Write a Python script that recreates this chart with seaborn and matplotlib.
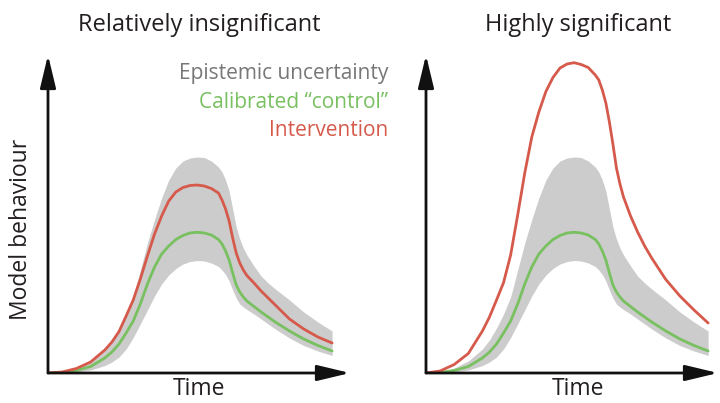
import numpy as np
import pandas as pd
import seaborn as sns
import matplotlib
matplotlib.use('Agg')
import matplotlib.pyplot as plt

# values (time 0-10, behaviour 0-10)
time = [0, 0.5, 1, 1.5, 2, 2.25, 2.5, 2.75, 3, 3.25, 3.5, 3.75, 4, 4.25, 4.5, 4.75,
        5, 5.25, 5.5, 5.75, 6, 6.125, 6.25, 6.375, 6.5, 6.625, 6.75, 6.875,
        7, 7.25, 7.5, 7.75, 8, 8.5, 9, 9.5, 10]
control = [0, 0.016, 0.079, 0.204, 0.472, 0.660, 0.912, 1.258, 1.635, 2.170, 2.799,
           3.333, 3.742, 3.994, 4.198, 4.324, 4.403, 4.425, 4.403, 4.340, 4.198,
           4.057, 3.836, 3.553, 3.145, 2.767, 2.547, 2.390, 2.264, 2.091, 1.918,
           1.761, 1.604, 1.321, 1.069, 0.865, 0.692]
band_upper = [0, 0.031, 0.157, 0.377, 0.755, 1.038, 1.415, 1.855, 2.390, 3.239, 4.088,
              4.827, 5.503, 6.069, 6.447, 6.667, 6.761, 6.792, 6.777, 6.667, 6.478,
              6.321, 6.069, 5.723, 5.157, 4.591, 4.214, 3.931, 3.711, 3.365, 3.050,
              2.830, 2.642, 2.296, 1.918, 1.604, 1.321]
band_lower = [0, 0, 0.031, 0.094, 0.236, 0.346, 0.503, 0.755, 1.116, 1.541, 1.981,
              2.421, 2.799, 3.082, 3.286, 3.428, 3.506, 3.538, 3.522, 3.459, 3.349,
              3.239, 3.097, 2.893, 2.610, 2.358, 2.170, 2.075, 1.997, 1.855, 1.698,
              1.541, 1.384, 1.101, 0.865, 0.692, 0.550]
intervention_small = [0, 0.031, 0.142, 0.346, 0.723, 0.975, 1.305, 1.792, 2.296, 2.956,
                      3.679, 4.371, 4.937, 5.409, 5.692, 5.833, 5.896, 5.912, 5.881,
                      5.802, 5.660, 5.440, 5.157, 4.780, 4.245, 3.774, 3.459, 3.239,
                      3.066, 2.830, 2.579, 2.358, 2.138, 1.698, 1.384, 1.132, 0.943]
intervention_large = [0, 0.063, 0.267, 0.613, 1.321, 1.761, 2.296, 2.846, 3.711, 4.969,
                      6.289, 7.421, 8.208, 8.852, 9.292, 9.591, 9.717, 9.758, 9.701,
                      9.607, 9.371, 9.214, 8.899, 8.491, 7.893, 7.201, 6.447, 5.943,
                      5.535, 4.937, 4.434, 3.994, 3.616, 2.940, 2.421, 1.981, 1.572]

titles = ["Relatively insignificant", "Highly significant"]
legend_labels = ["Epistemic uncertainty", "Calibrated \u201ccontrol\u201d", "Intervention"]

GRAY_FILL = '#cccccc'
GREEN = '#78c060'
RED = '#d65a4c'
GRAY_TEXT = '#777777'
INK = '#231f20'

sns.set_theme(style="white")
plt.rcParams['font.family'] = ['Open Sans', 'DejaVu Sans']

fig = plt.figure(figsize=(7.2, 4.03), dpi=100)

# axes placed so the arrows start at the origin and end at the tips
panels = [
    ([48 / 720, 30 / 403, 302 / 720, 318 / 403], 10.63, intervention_small, 199),
    ([426 / 720, 30 / 403, 292 / 720, 318 / 403], 10.35, intervention_large, 578),
]

for i, (rect, xmax, interv, cx) in enumerate(panels):
    ax = fig.add_axes(rect)
    df = pd.DataFrame({'time': time, 'control': control, 'intervention': interv,
                       'upper': band_upper, 'lower': band_lower})
    ax.fill_between(df['time'], df['lower'], df['upper'], color=GRAY_FILL, lw=0)
    sns.lineplot(data=df, x='time', y='control', color=GREEN, lw=2.0, ax=ax,
                 solid_joinstyle='round', solid_capstyle='round')
    sns.lineplot(data=df, x='time', y='intervention', color=RED, lw=2.0, ax=ax,
                 solid_joinstyle='round', solid_capstyle='round')
    ax.set_xlim(0, xmax)
    ax.set_ylim(0, 10)
    ax.set_xticks([])
    ax.set_yticks([])
    ax.set_xlabel('')
    ax.set_ylabel('')
    for s in ax.spines.values():
        s.set_visible(False)
    arrow = dict(arrowstyle='-|>,head_length=1.0,head_width=0.24', color='#111111',
                 lw=2.0, mutation_scale=20, shrinkA=0, shrinkB=0)
    ax.annotate('', xy=(1, 0), xytext=(0, 0), xycoords='axes fraction',
                arrowprops=arrow, zorder=5)
    ax.annotate('', xy=(0, 1), xytext=(0, 0), xycoords='axes fraction',
                arrowprops=arrow, zorder=5)
    fig.text(cx / 720, 1 - 25 / 403, titles[i], ha='center', va='center',
             fontsize=17, color=INK)
    fig.text(cx / 720, 1 - 389 / 403, 'Time', ha='center', va='center',
             fontsize=16.5, color=INK)

fig.text(21 / 720, 1 - 229 / 403, 'Model behaviour', rotation=90, ha='center',
         va='center', fontsize=16.5, color=INK)

for label, color, y in zip(legend_labels, [GRAY_TEXT, GREEN, RED], [73, 102, 130]):
    fig.text(388 / 720, 1 - y / 403, label, ha='right', va='center',
             fontsize=15, color=color)

fig.savefig('out.png', dpi=100)
